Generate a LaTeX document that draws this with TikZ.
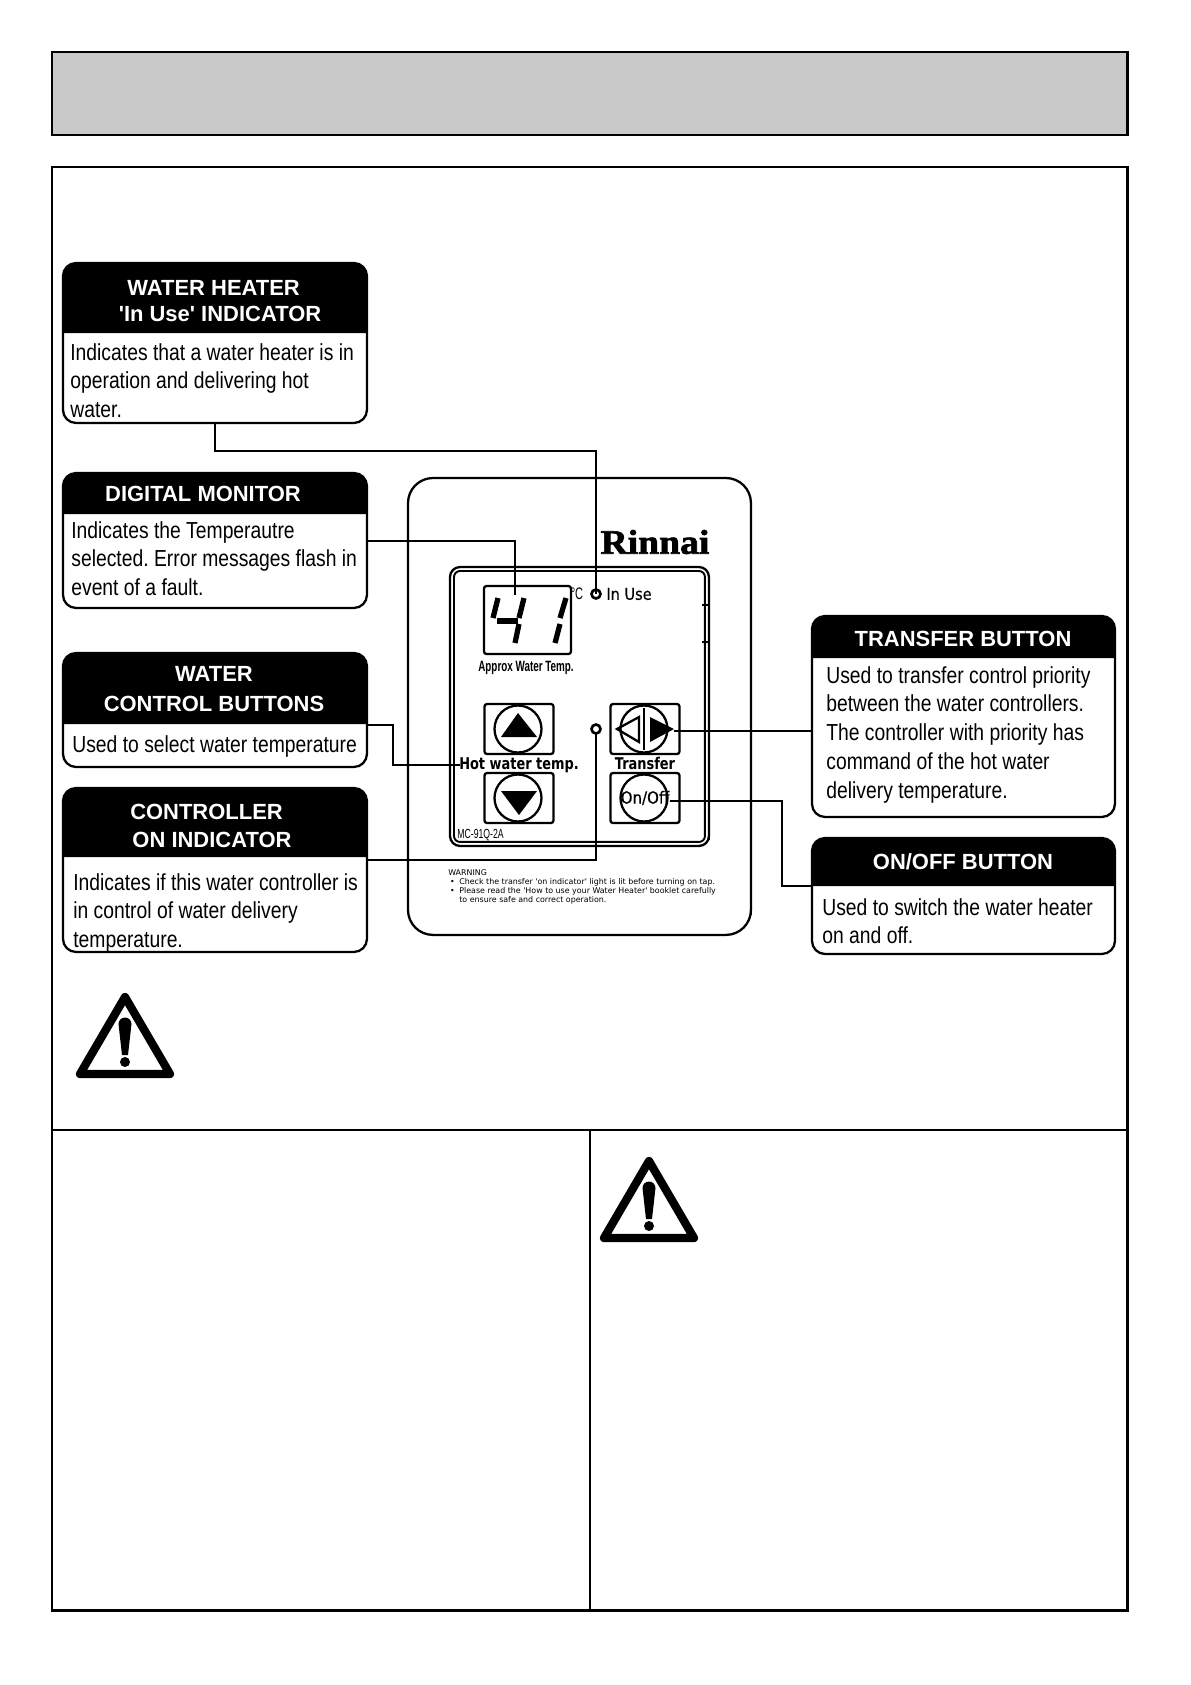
\documentclass[tikz,border=0pt]{standalone}
\usepackage{fontspec}
\usepackage{tikz}
\usetikzlibrary{arrows.meta, calc, positioning}
\setmainfont{Liberation Sans}
\newfontfamily\narrowfont[FakeStretch=0.833]{Liberation Sans}
\newfontfamily\tightfont[FakeStretch=0.66]{Liberation Sans}
\newfontfamily\logofont[FakeStretch=1.1,FakeBold=2]{Liberation Serif Bold}
\newfontfamily\panelfont[FakeStretch=0.8]{DejaVu Sans Bold}
\newfontfamily\panelplain[FakeStretch=0.9,FakeBold=0.4]{DejaVu Sans}
\newfontfamily\notefont{DejaVu Sans}

\newcommand{\headband}[2]{\fill[black] (#1.west |- 0,#2) [rounded corners=0.28cm] -- (#1.north west) -- (#1.north east) [sharp corners] -- (#1.east |- 0,#2) -- cycle;}

\tikzset{
  frameline/.style={draw=black, line width=1.5pt},
  calloutbox/.style={draw=black, line width=1.3pt, rounded corners=0.26cm, fill=white, anchor=north west, inner sep=0pt, outer sep=0pt},
  callouttitle/.style={text=white, align=center, inner sep=0pt, font=\bfseries\fontsize{12.5}{15}\selectfont},
  calloutbody/.style={anchor=north west, align=left, inner sep=0pt, font=\frenchspacing\narrowfont\fontsize{13.2}{16.4}\selectfont},
  wire/.style={draw=black, line width=1.2pt},
  keybox/.style={draw=black, line width=1.3pt, rounded corners=0.05cm, minimum width=1.38cm, minimum height=1cm, inner sep=0pt, outer sep=0pt},
  keyring/.style={draw=black, line width=1.3pt, circle, minimum size=0.94cm, inner sep=0pt, outer sep=0pt},
  lamp/.style={draw=black, line width=1.5pt, circle, minimum size=0.18cm, inner sep=0pt, outer sep=0pt},
  paneltext/.style={anchor=base, inner sep=0pt, font=\panelfont\fontsize{9.2}{10}\selectfont},
  segment/.style={draw=black, line width=3pt},
  warnsign/.pic={
    \draw[line width=4.7pt, line join=round] (0,4) -- (45,81) -- (-45,81) -- cycle;
    \fill (-6.5,31) arc (180:360:6.5) -- (3,62) -- (-3,62) -- cycle;
    \fill (0,69) circle (5);
  }
}

\begin{document}
\begin{tikzpicture}[x=0.02cm, y=-0.02cm]
  \useasboundingbox (0,0) rectangle (1191,1685);

  % Page frames
  \node[frameline, fill=black!21, anchor=north west, minimum width=21.52cm, minimum height=1.66cm, inner sep=0pt, outer sep=0pt] (titlebar) at (52,52) {};
  \node[frameline, anchor=north west, minimum width=21.52cm, minimum height=28.88cm, inner sep=0pt, outer sep=0pt] (mainframe) at (52,167) {};
  \draw[frameline] (mainframe.west |- 0,1130) -- (mainframe.east |- 0,1130);
  \draw[frameline] (590,1130) -- (590,1611);

  % Controller panel
  \node[draw=black, line width=1.3pt, rounded corners=0.5cm, anchor=north west, minimum width=6.86cm, minimum height=9.14cm, inner sep=0pt, outer sep=0pt] (panel) at (408,478) {};
  \draw[line width=1.4pt] (751,642) -- (751,915);
  \node[draw=black, line width=1.3pt, rounded corners=0.2cm, anchor=north west, minimum width=5.18cm, minimum height=5.58cm, inner sep=0pt, outer sep=0pt] (faceouter) at (450,567) {};
  \node[draw=black, line width=1.1pt, rounded corners=0.12cm, anchor=north west, minimum width=5.02cm, minimum height=5.42cm, inner sep=0pt, outer sep=0pt] (faceinner) at (454,571) {};
  \draw[line width=1.1pt] (702,605) -- (708,605);
  \draw[line width=1.1pt] (702,642) -- (708,642);
  \draw[line width=1.2pt] (709,672) -- (709,840);

  \node[font=\logofont\fontsize{19.5}{24}\selectfont, inner sep=0pt] (brand) at (655,542) {Rinnai};

  % Digital display
  \node[keybox, anchor=north west, minimum width=1.74cm, minimum height=1.36cm] (display) at (484,586) {};
  \foreach \xa/\ya/\xb/\yb in {498/598/493/618, 497/621/518/621, 524/598/519/618, 519/624/515/643, 566/598/560/618, 560/624/555/643}
    \draw[segment] (\xa,\ya) -- (\xb,\yb);
  \node[inner sep=0pt, font=\tightfont\bfseries\fontsize{8.5}{10}\selectfont] (displaylabel) at (526,668) {Approx Water Temp.};
  \node[inner sep=0pt, font=\tightfont\fontsize{9.5}{11}\selectfont] (celsius) at (577,594) {°C};
  \node[lamp] (inuselamp) at (596,594) {};
  \node[anchor=west, inner sep=0pt, font=\panelplain\fontsize{9.2}{10}\selectfont] (inuselabel) at (606,594) {In Use};
  \node[lamp] (onlamp) at (596,729) {};

  % Buttons
  \node[keybox] (upkey) at (519,729) {};
  \node[keyring] (upring) at (518,729) {};
  \fill (518,713) -- (537,737) -- (501,737) -- cycle;
  \node[keybox] (downkey) at (519,798) {};
  \node[keyring] (downring) at (518,798) {};
  \fill (501,791) -- (537,791) -- (519,815) -- cycle;
  \node[paneltext] (hotlabel) at (519,769) {Hot water temp.};
  \node[keybox] (transferkey) at (645,729) {};
  \node[keyring] (transferring) at (644,729) {};
  \draw[line width=1.3pt] (617,729) -- (639,717) -- (639,742) -- cycle;
  \fill (650,717) -- (674,729) -- (650,742) -- cycle;
  \draw[line width=1.6pt] (644,708) -- (644,750);
  \node[paneltext] (transferlabel) at (645,769) {Transfer};
  \node[keybox] (onoffkey) at (645,798) {};
  \node[keyring] (onoffring) at (644,798) {};
  \node[font=\panelplain\fontsize{9.5}{10}\selectfont, inner sep=0pt] (onofflabel) at (645,798) {On/Off};
  \coordinate (onoffend) at (670,801);
  \coordinate (transferend) at (674,731);
  \coordinate (hotend) at (460,765);
  \node[anchor=west, inner sep=0pt, font=\tightfont\fontsize{7.5}{9}\selectfont] (model) at (457,835) {MC-91Q-2A};

  % Panel warning
  \node[anchor=north west, align=left, inner sep=0pt, font=\notefont\fontsize{4.5}{5.1}\selectfont] (panelnote) at (448,869) {WARNING\\
    \makebox[0.22cm][l]{\hspace{1pt}•}Check the transfer 'on indicator' light is lit before turning on tap.\\
    \makebox[0.22cm][l]{\hspace{1pt}•}Please read the 'How to use your Water Heater' booklet carefully\\
    \hspace*{0.22cm}to ensure safe and correct operation.};

  % Callouts
  \node[calloutbox, minimum width=6.08cm, minimum height=3.2cm] (heaterbox) at (63,263) {};
  \headband{heaterbox}{333}
  \node[callouttitle] (heatertitle) at (220,301) {WATER HEATER\hspace*{0.256cm}\\\textquotesingle In Use\textquotesingle{} INDICATOR};
  \node[calloutbody] (heatertext) at (70,343) {Indicates that a water heater is in\\operation and delivering hot\\water.};

  \node[calloutbox, minimum width=6.08cm, minimum height=2.7cm] (monitorbox) at (63,473) {};
  \headband{monitorbox}{514}
  \node[callouttitle] (monitortitle) at (203,494) {DIGITAL MONITOR};
  \node[calloutbody] (monitortext) at (71,521) {Indicates the Temperautre\\selected. Error messages flash in\\event of a fault.};

  \node[calloutbox, minimum width=6.08cm, minimum height=2.28cm] (waterbox) at (63,653) {};
  \headband{waterbox}{724}
  \node[callouttitle] (watertitle) at (214,689) {WATER\\[2pt]CONTROL BUTTONS};
  \node[calloutbody] (watertext) at (72,735) {Used to select water temperature};

  \node[calloutbox, minimum width=6.08cm, minimum height=3.28cm] (ctrlbox) at (63,788) {};
  \headband{ctrlbox}{857}
  \node[callouttitle] (ctrltitle) at (212,826) {CONTROLLER\hspace*{0.22cm}\\[1pt]ON INDICATOR};
  \node[calloutbody] (ctrltext) at (73,873) {Indicates if this water controller is\\in control of water delivery\\temperature.};

  \node[calloutbox, minimum width=6.06cm, minimum height=4.02cm] (transferbox) at (812,616) {};
  \headband{transferbox}{658}
  \node[callouttitle] (transfertitle) at (963,639) {TRANSFER BUTTON};
  \node[calloutbody] (transfertext) at (826,666) {Used to transfer control priority\\between the water controllers.\\The controller with priority has\\command of the hot water\\delivery temperature.};

  \node[calloutbox, minimum width=6.06cm, minimum height=2.32cm] (onoffbox) at (812,838) {};
  \headband{onoffbox}{886}
  \node[callouttitle] (onofftitle) at (963,862) {ON/OFF BUTTON};
  \node[calloutbody] (onofftext) at (822,898) {Used to switch the water heater\\on and off.};

  % Connectors
  \draw[wire] (heaterbox.south |- 0,423) -- (heaterbox.south |- 0,451) -- (inuselamp.center |- 0,451) -- (inuselamp.center);
  \draw[wire] (monitorbox.east |- 0,541) -- (515,541) -- (515,595);
  \draw[wire] (waterbox.east |- 0,725) -- (393,725) -- (393,765) -- (hotend);
  \draw[wire] (ctrlbox.east |- 0,860) -- (onlamp.center |- 0,860) -- (onlamp.south);
  \draw[wire] (transferbox.west |- transferend) -- (transferend);
  \draw[wire] (onoffbox.west |- 0,886) -- (782,886) -- (782,801) -- (onoffend);

  % Warning signs
  \pic (warnleft) at (125,993) {warnsign};
  \pic (warnright) at (649,1157) {warnsign};
\end{tikzpicture}
\end{document}
